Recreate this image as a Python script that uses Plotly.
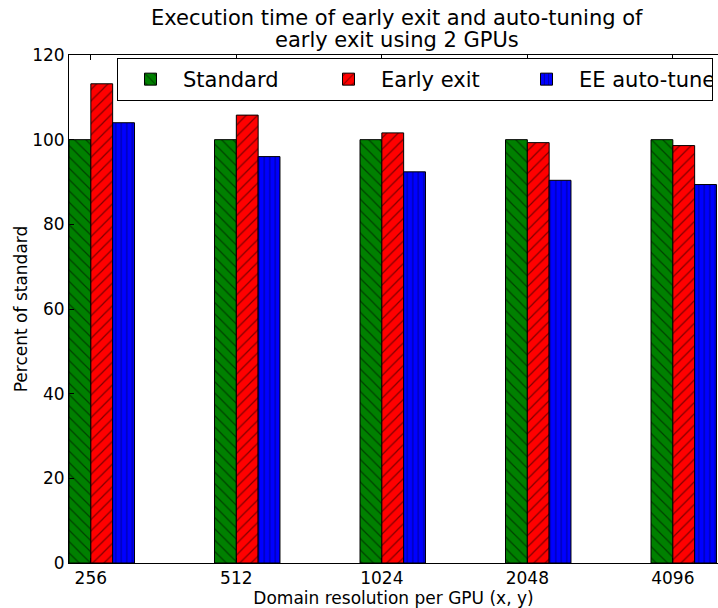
import plotly.graph_objects as go

categories = ["256", "512", "1024", "2048", "4096"]
standard = [100, 100, 100, 100, 100]
early_exit = [113.2, 105.8, 101.6, 99.3, 98.6]
ee_auto = [104.0, 96.0, 92.4, 90.4, 89.4]
series_names = ["Standard", "Early exit", "EE auto-tune"]
colors = ["green", "red", "blue"]
hatches = ["\\", "/", "|"]
hatch_sizes = [8, 8, 5.5]
title_lines = ["Execution time of early exit and auto-tuning of", "early exit using 2 GPUs"]

BAR_W = 0.15
idx = list(range(len(categories)))

fig = go.Figure()
for k, (name, vals, col, hat, hs) in enumerate(zip(series_names, [standard, early_exit, ee_auto], colors, hatches, hatch_sizes)):
    fig.add_trace(go.Bar(
        x=[i + k * BAR_W for i in idx], y=vals, name=name,
        width=BAR_W, offset=0,
        marker=dict(color=col, line=dict(color="black", width=1),
                    pattern=dict(shape=hat, fgcolor="black", bgcolor=col, size=hs, solidity=0.15)),
    ))

font = "DejaVu Sans, sans-serif"
H = 608
for line, yc in zip(title_lines, [18, 40]):
    fig.add_annotation(text=line, xref="paper", yref="paper", x=(397 - 69) / 649, xanchor="center",
                       y=1 + (55 - yc) / 508, yanchor="middle", showarrow=False,
                       font=dict(size=21, family=font, color="black"))

fig.update_layout(
    width=718, height=608,
    margin=dict(l=69, r=0, t=55, b=45, autoexpand=False),
    plot_bgcolor="white", paper_bgcolor="white",
    barmode="overlay",
    font=dict(family=font, size=17, color="black"),
    xaxis=dict(range=[0, (718 - 69) / 145.5], tickvals=[i + BAR_W for i in idx], ticktext=categories,
               showline=True, linecolor="black", linewidth=1, mirror="ticks", automargin=False,
               ticks="inside", ticklen=5, tickcolor="black", showgrid=False, zeroline=False,
               tickfont=dict(size=17),
               title=dict(text="Domain resolution per GPU (x, y)", standoff=0, font=dict(size=17))),
    yaxis=dict(range=[0, 120], tickvals=[0, 20, 40, 60, 80, 100, 120],
               showline=True, linecolor="black", linewidth=1, mirror=False, automargin=False,
               ticks="inside", ticklen=5, tickcolor="black", showgrid=False, zeroline=False,
               tickfont=dict(size=17),
               title=dict(text="Percent of standard", standoff=0, font=dict(size=17))),
    legend=dict(orientation="h", x=(117 - 69) / 649, xanchor="left", y=1 - 3 / 508, yanchor="top",
                bgcolor="white", bordercolor="black", borderwidth=1, itemwidth=55,
                font=dict(size=21), entrywidth=128, entrywidthmode="pixels", tracegroupgap=0),
)
fig.write_html("out.html", config={"displayModeBar": False},
               post_script="document.body.style.margin='0';document.body.style.overflow='hidden';")
